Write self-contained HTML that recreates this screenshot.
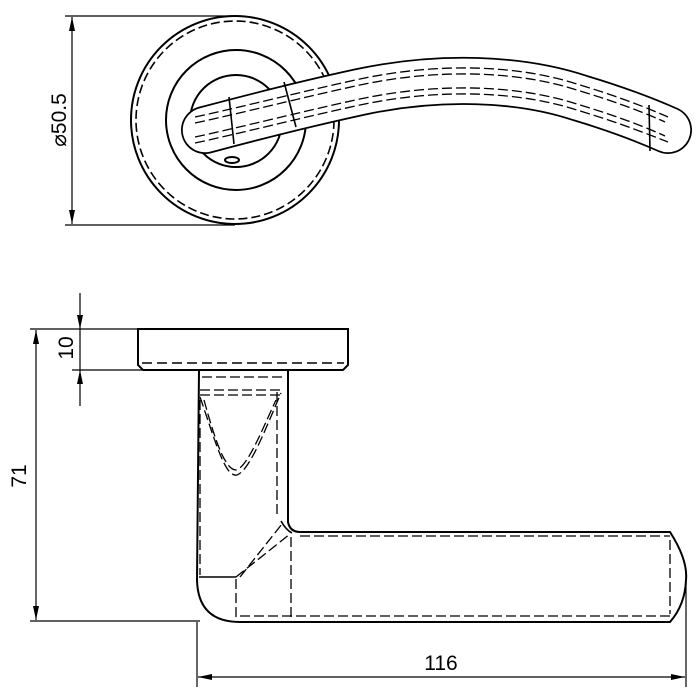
<!DOCTYPE html>
<html><head><style>body{margin:0;background:#fff}svg{display:block}</style></head><body>
<svg width="700" height="700" viewBox="0 0 700 700" xmlns="http://www.w3.org/2000/svg" fill="none" stroke="#000" stroke-width="1.6">
<defs><marker id="a" markerWidth="10" markerHeight="10" refX="9" refY="3" orient="auto" markerUnits="userSpaceOnUse"><path d="M0,0 L9,3 L0,6z" fill="#000" stroke="none" transform="scale(1.6,1)" /></marker></defs>
<!-- top view dims -->
<line x1="65" y1="16" x2="235" y2="16" stroke-width="1.2"/>
<line x1="65" y1="225" x2="235" y2="225" stroke-width="1.2"/>
<line x1="72" y1="17" x2="72" y2="224" stroke-width="1.2"/>
<path d="M72,17 l-3,14 h6z M72,224 l-3,-14 h6z" fill="#000" stroke="none"/>
<text x="0" y="0" transform="translate(66,120) rotate(-90)" font-family="Liberation Sans,sans-serif" font-size="21" fill="#000" stroke="none" text-anchor="middle">⌀50.5</text>
<!-- rose top view -->
<circle cx="235" cy="120" r="104" fill="#fff" stroke-width="2"/>
<circle cx="235" cy="120" r="99" stroke-dasharray="9 4"/>
<circle cx="236" cy="120" r="70" stroke-width="2"/>
<circle cx="236" cy="121" r="46" stroke-width="2"/>
<ellipse cx="232" cy="160" rx="7" ry="3" stroke-width="2"/>
<!-- lever top view -->
<path d="M205,130 C250,118 300,105 360,92 C440,75 520,78 580,98 C620,110 650,122 668,130" stroke-width="48" stroke-linecap="round"/>
<path d="M205,130 C250,118 300,105 360,92 C440,75 520,78 580,98 C620,110 650,122 668,130" stroke="#fff" stroke-width="44.5" stroke-linecap="round"/>
<g stroke-dasharray="10 4" stroke-width="1.3">
<path d="M195,117 C250,105 300,92 360,79 C440,62 520,65 580,85 C620,97 650,109 668,117"/>
<path d="M195,123 C250,111 300,98 360,85 C440,68 520,71 580,91 C620,103 650,115 665,122"/>
<path d="M195,137 C250,125 300,112 360,99 C440,82 520,85 580,105 C620,117 650,129 665,136"/>
<path d="M195,143 C250,131 300,118 360,105 C440,88 520,91 580,111 C620,123 650,135 668,142"/>
</g>
<line x1="229" y1="97" x2="234" y2="144"/>
<line x1="284" y1="82" x2="296" y2="127"/>
<line x1="649" y1="105" x2="650" y2="151"/>
<!-- bottom view dims -->
<line x1="30" y1="329" x2="138" y2="329" stroke-width="1.2"/>
<line x1="72" y1="370" x2="198" y2="370" stroke-width="1.2"/>
<line x1="30" y1="621" x2="200" y2="621" stroke-width="1.2"/>
<line x1="80" y1="293" x2="80" y2="406" stroke-width="1.2"/>
<path d="M80,329 l-3,-14 h6z M80,370 l-3,14 h6z" fill="#000" stroke="none"/>
<line x1="36" y1="330" x2="36" y2="620" stroke-width="1.2"/>
<path d="M36,330 l-3,14 h6z M36,620 l-3,-14 h6z" fill="#000" stroke="none"/>
<text transform="translate(73,348) rotate(-90)" font-family="Liberation Sans,sans-serif" font-size="21" fill="#000" stroke="none" text-anchor="middle">10</text>
<text transform="translate(26,476) rotate(-90)" font-family="Liberation Sans,sans-serif" font-size="21" fill="#000" stroke="none" text-anchor="middle">71</text>
<line x1="197" y1="622" x2="197" y2="687" stroke-width="1.2"/>
<line x1="686" y1="570" x2="686" y2="687" stroke-width="1.2"/>
<line x1="198" y1="677" x2="685" y2="677" stroke-width="1.2"/>
<path d="M198,677 l14,-3 v6z M685,677 l-14,-3 v6z" fill="#000" stroke="none"/>
<text x="441" y="670" font-family="Liberation Sans,sans-serif" font-size="21" fill="#000" stroke="none" text-anchor="middle">116</text>
<!-- rose side -->
<path d="M138,329 H348 V365 L343,370 H143 L138,365Z" stroke-width="2"/>
<line x1="142" y1="363" x2="344" y2="363" stroke-dasharray="10 5"/>
<!-- neck & lever -->
<path d="M199,370 H288 V522 Q290,532 300,532 H670 Q688,560 686,580 Q685,605 670,622 H240 Q198,622 197,580 Z" stroke-width="2"/>
<g stroke-dasharray="10 4" stroke-width="1.3">
<line x1="202" y1="377" x2="286" y2="377"/>
<line x1="200" y1="390" x2="282" y2="390"/>
<line x1="200" y1="395" x2="282" y2="395"/>
<line x1="277" y1="392" x2="277" y2="518"/>
<line x1="200" y1="400" x2="200" y2="575"/>
<path d="M200,397 C215,440 225,478 237,475 C250,470 265,430 281,393"/>
<path d="M204,400 C215,440 225,470 236,470 C247,468 262,430 276,400"/>
<line x1="300" y1="536" x2="670" y2="536"/>
<line x1="240" y1="616" x2="670" y2="616"/>
<line x1="291" y1="537" x2="291" y2="620"/>
<line x1="236" y1="579" x2="236" y2="620"/>
<line x1="236" y1="577" x2="290" y2="534"/>
<line x1="240" y1="577" x2="282" y2="524"/>
<line x1="670" y1="540" x2="670" y2="614"/>
</g>
<line x1="199" y1="577" x2="236" y2="577"/>
<path d="M281,521 Q286,530 292,533"/>
</svg>
</body></html>
